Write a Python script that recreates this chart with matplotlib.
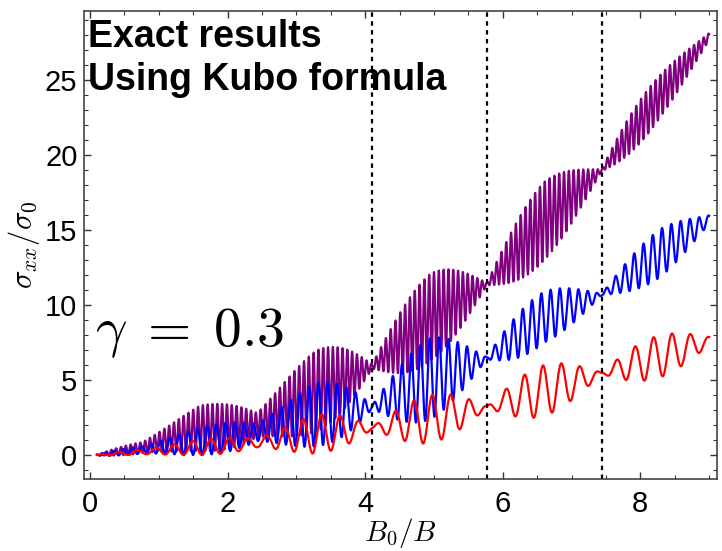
import numpy as np
import matplotlib
matplotlib.use('Agg')
from matplotlib import pyplot as plt

plt.rcParams['mathtext.fontset'] = 'cm'
plt.rcParams['font.family'] = ['Liberation Sans', 'DejaVu Sans']

# envelope knots (B0/B) where mean level and oscillation amplitude were read
knots = [0.1, 0.76, 1.6, 2.43, 3.3, 4.1, 4.95, 5.77, 6.6, 7.44, 8.3, 9.0]

red_mean = [0.0, 0.2, 0.5, 0.8, 1.4, 1.8, 2.4, 3.2, 4.3, 5.45, 6.6, 7.6]
red_amp = [0.03, 0.25, 0.5, 0.7, 1.3, 1.4, 1.6, 1.6, 1.7, 1.5, 1.4, 1.2]

blue_mean = [0.0, 0.35, 0.9, 1.5, 2.7, 3.2, 5.1, 6.45, 9.2, 10.7, 13.5, 15.7]
blue_amp = [0.03, 0.4, 0.9, 1.4, 2.1, 2.4, 2.7, 2.2, 1.7, 1.5, 1.6, 1.2]

purple_mean = [0.0, 0.5, 1.8, 2.0, 4.3, 5.9, 9.2, 11.4, 15.6, 19.0, 24.0, 27.9]
purple_amp = [0.03, 0.6, 1.5, 2.0, 2.7, 2.8, 2.9, 2.7, 2.6, 2.1, 1.4, 1.0]

# how much oscillation survives at the beat nodes
node_floor = [0.7, 0.6, 0.5, 0.4, 0.2, 0.05, 0.04, 0.03, 0.03, 0.03, 0.03, 0.03]

# oscillation period in B0/B and position of one maximum
red_period, red_peak = 0.268, 8.46
blue_period, blue_peak = 0.135, 8.45
purple_period, purple_peak = 0.070, 8.50

# beat nodes (marked by dashed lines)
beat_nodes = [4.10, 5.77, 7.44]
beat_length = 1.67

x = np.linspace(0.1, 9.0, 30000)


def sdh_curve(mean, amp, period, peak):
    m = np.interp(x, knots, mean)
    a = np.interp(x, knots, amp)
    fl = np.interp(x, knots, node_floor)
    beat = np.abs(np.sin(np.pi * (x - beat_nodes[0]) / beat_length))
    env = fl + (1 - fl) * beat
    return m + a * env * np.cos(2 * np.pi * (x - peak) / period)


fig = plt.figure(figsize=(7.22, 5.51), dpi=100)
ax = fig.add_axes([0.1168, 0.130, 0.8759, 0.850])

ax.plot(x, sdh_curve(purple_mean, purple_amp, purple_period, purple_peak),
        color='#800080', lw=1.6)
ax.plot(x, sdh_curve(blue_mean, blue_amp, blue_period, blue_peak),
        color='#0000ff', lw=1.6)
ax.plot(x, sdh_curve(red_mean, red_amp, red_period, red_peak),
        color='#ff0000', lw=1.6)

for xn in beat_nodes:
    ax.axvline(xn, color='black', lw=1.6, ls=(0, (2, 2)))

ax.set_xlim(-0.083, 9.11)
ax.set_ylim(-1.62, 29.6)
ax.set_xticks([0, 2, 4, 6, 8])
ax.set_xticks(np.arange(0, 9.01, 0.5), minor=True)
ax.set_yticks([0, 5, 10, 15, 20, 25])
ax.set_yticks(np.arange(-1, 30, 1), minor=True)
ax.tick_params(which='both', direction='in', top=True, right=True,
               labelsize=21, color='#333333')
ax.tick_params(which='major', length=5, width=1)
ax.tick_params(which='minor', length=3, width=0.8)
ax.tick_params(axis='y', pad=5)
ax.tick_params(axis='x', pad=8)
for s in ax.spines.values():
    s.set_color('#444444')
    s.set_linewidth(1.2)

ax.set_xlabel(r'$B_0/B$', fontsize=21, labelpad=-2)
ax.set_ylabel(r'$\sigma_{xx}/\sigma_0$', fontsize=22, labelpad=2)

ax.text(0.006, 0.923, 'Exact results', transform=ax.transAxes,
        fontsize=27, fontweight='bold', va='baseline', ha='left')
ax.text(0.006, 0.831, 'Using Kubo formula', transform=ax.transAxes,
        fontsize=27, fontweight='bold', va='baseline', ha='left')
ax.text(0.017, 0.285, r'$\gamma\;=\;0.3$', transform=ax.transAxes,
        fontsize=40, va='baseline', ha='left')

fig.savefig('out.png', dpi=100)
